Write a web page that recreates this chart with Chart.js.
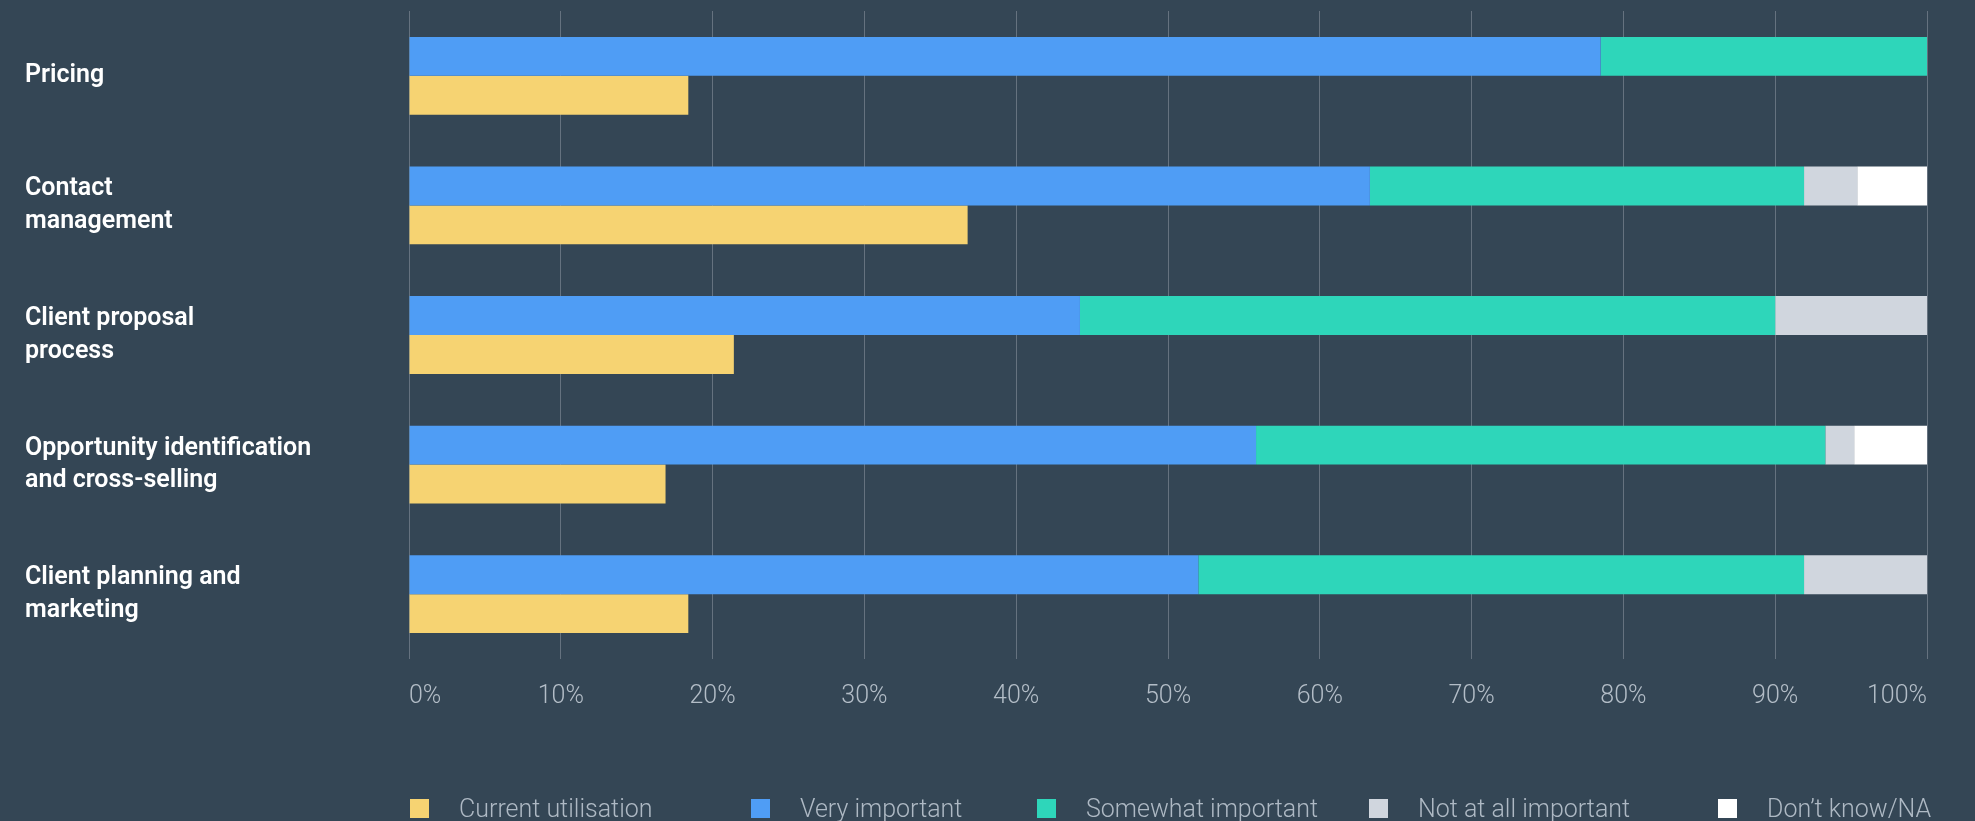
<!DOCTYPE html>
<html lang="en">
<head>
<meta charset="utf-8">
<title>Importance vs current utilisation</title>
<script src="https://cdn.jsdelivr.net/npm/chart.js@4.4.1/dist/chart.umd.min.js"></script>
<style>
  html, body { margin: 0; padding: 0; background: #344655; }
  .wrap { position: relative; width: 1975px; height: 821px; }
  #chart { display: block; }
  .legend {
    position: absolute; left: 0; top: 796px; width: 1975px; height: 25px;
    font-family: Roboto, "Noto Sans", sans-serif; font-weight: 300; font-size: 25px;
    color: #aeb9c4;
  }
  .legend .item { position: absolute; top: 0; display: flex; align-items: center; line-height: 25px; white-space: nowrap; }
  .legend .box { display: inline-block; width: 19px; height: 19px; margin-right: 30px; }
</style>
</head>
<body>
<div class="wrap">
  <canvas id="chart" width="1975" height="821"></canvas>
  <div class="legend" id="legend"></div>
</div>
<script>
// Categories (multi-line y labels)
const categories = [
  ["Pricing"],
  ["Contact", "management"],
  ["Client proposal", "process"],
  ["Opportunity identification", "and cross-selling"],
  ["Client planning and", "marketing"]
];

// % of respondents
const currentUtilisation = [18.4, 36.8, 21.4, 16.9, 18.4];
const veryImportant      = [78.5, 63.3, 44.2, 55.8, 52.0];
const somewhatImportant  = [21.5, 28.6, 45.8, 37.5, 39.9];
const notAtAllImportant  = [0, 3.5, 10.0, 1.9, 8.1];
const dontKnow           = [0, 4.6, 0, 4.8, 0];

const tickValues = [0, 10, 20, 30, 40, 50, 60, 70, 80, 90, 100];

const colors = {
  util: "#f6d372",
  very: "#4f9df5",
  somewhat: "#2ed6ba",
  notAtAll: "#d0d6de",
  dontKnow: "#ffffff"
};

// legend order differs from stacking order (utilisation bar sits under the stack)
const legendItems = [
  { label: "Current utilisation", color: colors.util, left: 410 },
  { label: "Very important", color: colors.very, left: 751 },
  { label: "Somewhat important", color: colors.somewhat, left: 1037 },
  { label: "Not at all important", color: colors.notAtAll, left: 1369 },
  { label: "Don’t know/NA", color: colors.dontKnow, left: 1718 }
];

function buildLegend() {
  const el = document.getElementById("legend");
  legendItems.forEach(function(item) {
    const div = document.createElement("div");
    div.className = "item";
    div.style.left = item.left + "px";
    const box = document.createElement("span");
    box.className = "box";
    box.style.background = item.color;
    div.appendChild(box);
    div.appendChild(document.createTextNode(item.label));
    el.appendChild(div);
  });
}

function makeDataset(label, data, color, stack) {
  return {
    label: label,
    data: data,
    backgroundColor: color,
    borderWidth: 0,
    stack: stack,
    categoryPercentage: 0.6,
    barPercentage: 1
  };
}

const ctx = document.getElementById("chart").getContext("2d");
new Chart(ctx, {
  type: "bar",
  data: {
    labels: categories,
    datasets: [
      makeDataset("Very important", veryImportant, colors.very, "importance"),
      makeDataset("Somewhat important", somewhatImportant, colors.somewhat, "importance"),
      makeDataset("Not at all important", notAtAllImportant, colors.notAtAll, "importance"),
      makeDataset("Don’t know/NA", dontKnow, colors.dontKnow, "importance"),
      makeDataset("Current utilisation", currentUtilisation, colors.util, "utilisation")
    ]
  },
  options: {
    indexAxis: "y",
    responsive: false,
    animation: false,
    layout: {
      padding: { left: 25, right: 48, top: 11, bottom: 86 }
    },
    scales: {
      x: {
        stacked: true,
        min: 0,
        max: 100,
        afterBuildTicks: function(scale) {
          scale.ticks = tickValues.map(v => ({ value: v }));
        },
        ticks: {
          align: "inner",
          padding: 23,
          color: "#b3bdc7",
          font: { family: "Roboto", size: 25, weight: 300 },
          callback: v => v + "%"
        },
        grid: { color: "#65727f", lineWidth: 1, drawTicks: false },
        border: { display: false }
      },
      y: {
        stacked: true,
        afterFit: function(scale) {
          scale.width = 384;
          // don't reserve room for half of the first/last label
          scale.paddingTop = 0;
          scale.paddingBottom = 0;
        },
        ticks: {
          crossAlign: "far",
          color: "#ffffff",
          font: { family: "Roboto", size: 25, weight: 600, lineHeight: 1.3 }
        },
        grid: { display: false },
        border: { display: false }
      }
    },
    plugins: {
      legend: { display: false },
      tooltip: { enabled: false }
    }
  }
});

buildLegend();
</script>
</body>
</html>
